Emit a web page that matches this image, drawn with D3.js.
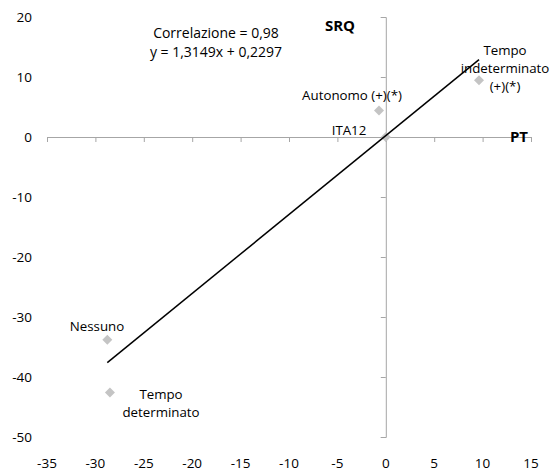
<!DOCTYPE html>
<html><head><meta charset="utf-8">
<script src="https://cdn.jsdelivr.net/npm/d3@7"></script>
<style>body{margin:0;background:#fff}svg{display:block}text{font-family:"Open Sans",sans-serif;fill:#000}</style>
</head><body>
<svg id="c" width="552" height="473"></svg>
<script>
const categories = ["ITA12","Autonomo (+)(*)","Tempo indeterminato (+)(*)","Nessuno","Tempo determinato"];
const ptValues = [0, -0.7, 9.63, -28.77, -28.5];
const srqValues = [0, 4.4, 9.45, -33.8, -42.6];
const xTicks = [-35,-30,-25,-20,-15,-10,-5,0,5,10,15];
const yTicks = [-50,-40,-30,-20,-10,0,10,20];
const slope = 1.3149, intercept = 0.2297;
const statLines = ["Correlazione = 0,98","y = 1,3149x + 0,2297"];
const labelLines = [["ITA12"],["Autonomo (+)(*)"],["Tempo","indeterminato","(+)(*)"],["Nessuno"],["Tempo","determinato"]];

const svg = d3.select("#c");
const x = d3.scaleLinear().domain([-35,15]).range([47,531]);
const y = d3.scaleLinear().domain([-50,20]).range([437,17]);
const axisCol = "#a6a6a6";

const gx = svg.append("g").attr("transform",`translate(0,${y(0)})`)
  .call(d3.axisBottom(x).tickValues(xTicks).tickSize(5).tickFormat(""));
gx.select(".domain").attr("stroke",axisCol);
gx.selectAll(".tick line").attr("stroke",axisCol);
const gy = svg.append("g").attr("transform",`translate(${x(0)},0)`)
  .call(d3.axisLeft(y).tickValues(yTicks).tickSize(5).tickFormat(""));
gy.select(".domain").attr("stroke",axisCol);
gy.selectAll(".tick line").attr("stroke",axisCol);

svg.append("g").selectAll("text").data(xTicks).join("text")
  .attr("x",d=>x(d)).attr("y",468).attr("text-anchor","middle")
  .attr("font-size",13.5).text(d=>d);
svg.append("g").selectAll("text").data(yTicks).join("text")
  .attr("x",32).attr("y",d=>y(d)+5).attr("text-anchor","end")
  .attr("font-size",13.5).text(d=>d);

const sym = d3.symbol().type(d3.symbolSquare).size(50);
svg.append("g").selectAll("path").data(categories).join("path")
  .attr("d",sym).attr("fill","#c4c4c4")
  .attr("transform",(d,i)=>`translate(${x(ptValues[i])},${y(srqValues[i])}) rotate(45)`);

const xmin = d3.min(ptValues), xmax = d3.max(ptValues);
svg.append("line")
  .attr("x1",x(xmin)).attr("y1",y(slope*xmin+intercept))
  .attr("x2",x(xmax)).attr("y2",y(slope*xmax+intercept))
  .attr("stroke","#000").attr("stroke-width",1.5);

const labelPos = [[349,135],[352,100],[505,55],[97,331],[161,399]];
labelLines.forEach((lines,i)=>{
  const t = svg.append("text").attr("text-anchor","middle").attr("font-size",13.3);
  lines.forEach((l,j)=>t.append("tspan").attr("x",labelPos[i][0]).attr("y",labelPos[i][1]+j*18).text(l));
});

statLines.forEach((l,j)=>svg.append("text").attr("x",216).attr("y",38+j*19)
  .attr("text-anchor","middle").attr("font-size",14).text(l));

svg.append("text").attr("x",340).attr("y",31).attr("text-anchor","middle")
  .attr("font-size",15).attr("font-weight","bold").text("SRQ");
svg.append("text").attr("x",519).attr("y",142).attr("text-anchor","middle")
  .attr("font-size",15).attr("font-weight","bold").text("PT");
</script>
</body></html>
